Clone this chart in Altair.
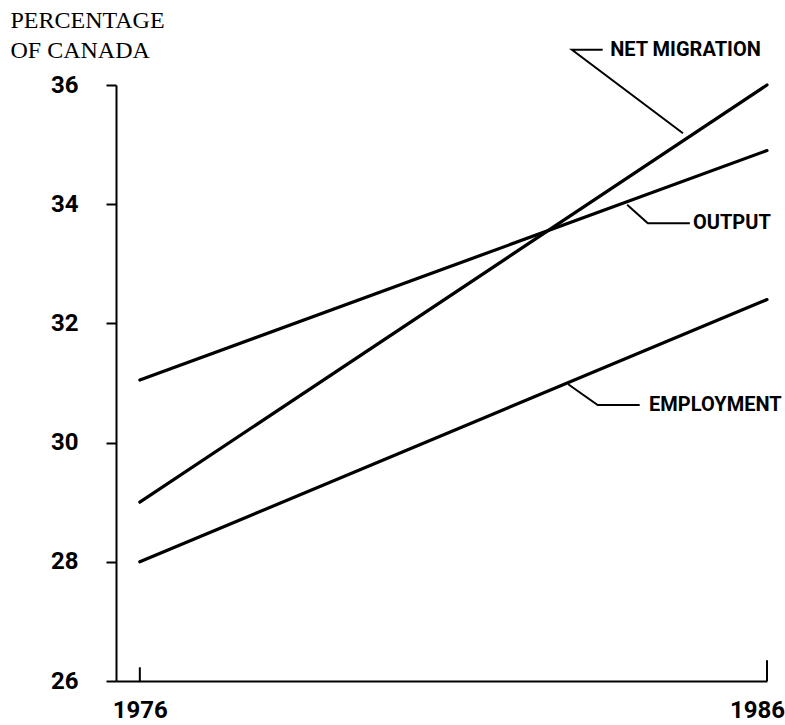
import altair as alt
import pandas as pd

# ---- data ----
years = [1976, 1986]
series_names = ["NET MIGRATION", "OUTPUT", "EMPLOYMENT"]
net_migration = [29.0, 36.0]
output = [31.05, 34.9]
employment = [28.0, 32.4]

y_ticks = [26, 28, 30, 32, 34, 36]
x_ticks = [1976, 1986]

# label anchors (data units)
label_text = ["NET MIGRATION", "OUTPUT", "EMPLOYMENT"]
label_year = [1983.5, 1984.82, 1984.12]
label_pct = [36.59, 33.68, 30.63]

# leader polylines (data units): three points each
leader_year = [[1984.66, 1982.89, 1983.38],
               [1983.77, 1984.10, 1984.77],
               [1982.83, 1983.30, 1983.97]]
leader_pct = [[35.19, 36.59, 36.59],
              [33.99, 33.68, 33.68],
              [30.98, 30.63, 30.63]]

# inward x-axis ticks
xtick_year = [1976, 1986]
xtick_top = [26.23, 26.35]

# ---- tables ----
rows = []
for name, vals in zip(series_names, [net_migration, output, employment]):
    for yr, v in zip(years, vals):
        rows.append({"series": name, "year": yr, "pct": v})
df = pd.DataFrame(rows)

lrows = []
for i, (xs, ys) in enumerate(zip(leader_year, leader_pct)):
    for j, (xx, yy) in enumerate(zip(xs, ys)):
        lrows.append({"id": i, "ord": j, "year": xx, "pct": yy})
ldf = pd.DataFrame(lrows)

tdf = pd.DataFrame({"text": label_text, "year": label_year, "pct": label_pct})
kdf = pd.DataFrame({"year": xtick_year, "y0": [26, 26], "y1": xtick_top})

NARROW = "Roboto, sans-serif"

xscale = alt.Scale(domain=[1975.62, 1986], nice=False, zero=False)
yscale = alt.Scale(domain=[26, 36], nice=False, zero=False)

xaxis = alt.Axis(
    values=x_ticks, format="d", title=None, ticks=False, tickSize=0,
    grid=False, domainColor="black", domainWidth=2, labelFlush=False,
    labelFont=NARROW, labelFontSize=24, labelFontWeight="bold", labelColor="black",
    labelPadding=17, labelOffset={"expr": "datum.value == 1986 ? -10 : 0"},
)
yaxis = alt.Axis(
    values=y_ticks, format="d", grid=False,
    title=["PERCENTAGE", "OF CANADA"], titleAngle=0, titleAlign="left",
    titleBaseline="top", titleX=-106, titleY=-77, titleFont="Liberation Serif",
    titleFontSize=24, titleFontWeight="normal", titleColor="black", titleLineHeight=30,
    tickSize=10, tickWidth=2, tickColor="black", domainColor="black", domainWidth=2,
    labelFont=NARROW, labelFontSize=24, labelFontWeight="bold", labelColor="black",
    labelPadding=28,
)

lines = alt.Chart(df).mark_line(color="black", strokeWidth=3.2, strokeCap="round").encode(
    x=alt.X("year:Q", scale=xscale, axis=xaxis),
    y=alt.Y("pct:Q", scale=yscale, axis=yaxis),
    detail="series:N",
)

leaders = alt.Chart(ldf).mark_line(color="black", strokeWidth=2).encode(
    x=alt.X("year:Q", scale=xscale),
    y=alt.Y("pct:Q", scale=yscale),
    detail="id:N",
    order="ord:Q",
)

labels = alt.Chart(tdf).mark_text(
    align="left", baseline="middle", font=NARROW, fontSize=20, fontWeight="bold", color="black"
).encode(
    x=alt.X("year:Q", scale=xscale),
    y=alt.Y("pct:Q", scale=yscale),
    text="text:N",
)

xticks = alt.Chart(kdf).mark_rule(color="black", strokeWidth=2).encode(
    x=alt.X("year:Q", scale=xscale),
    y=alt.Y("y0:Q", scale=yscale),
    y2="y1:Q",
)

chart = alt.layer(lines, leaders, labels, xticks).properties(
    width=651, height=596,
    padding={"left": 116, "top": 85, "right": 18, "bottom": 44},
    autosize=alt.AutoSizeParams(type="none"),
    background="white",
).configure_view(stroke=None)

chart.save("out.html", embed_options={"renderer": "svg", "actions": False})
